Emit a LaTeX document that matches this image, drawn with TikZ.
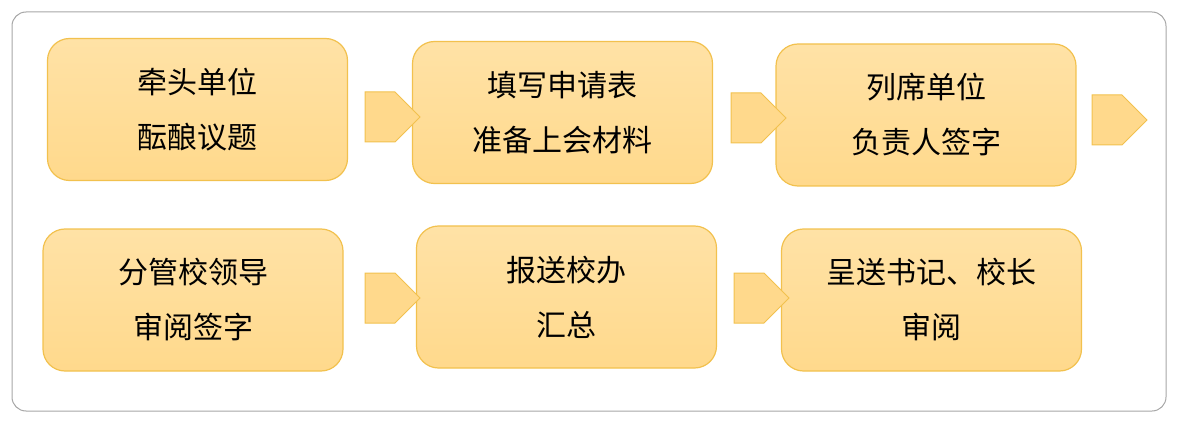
\documentclass[tikz,border=0pt]{standalone}
\usepackage{fontspec}
\newfontfamily\cjk{Noto Sans CJK SC}
\usetikzlibrary{shapes.arrows}
\definecolor{boxfill}{HTML}{FFD98C}
\definecolor{boxtop}{HTML}{FFE2A6}
\definecolor{boxline}{HTML}{F2C14E}
\tikzset{
 stepbox/.style={draw=boxline,line width=1.2pt,rounded corners=22pt,top color=boxtop,bottom color=boxfill,
   minimum width=300pt,minimum height=142pt,align=center,font=\cjk\fontsize{30}{55}\selectfont,text=black},
 arr/.style={single arrow,draw=boxline,fill=boxfill,line width=1pt,minimum width=50pt,single arrow head extend=0pt,
   minimum height=55pt,inner sep=0pt,single arrow tip angle=90}
}
\begin{document}
\begin{tikzpicture}[x=1pt,y=-1pt]
\useasboundingbox (0,0) rectangle (1179,425);
\draw[gray!70,line width=1pt,rounded corners=14pt] (12,12) rectangle (1166,411);
\node[stepbox] (b1) at (197.5,109.5) {牵头单位\\酝酿议题};
\node[stepbox] (b2) at (562.5,112.5) {填写申请表\\准备上会材料};
\node[stepbox] (b3) at (926,115) {列席单位\\负责人签字};
\node[stepbox] (b4) at (193,300) {分管校领导\\审阅签字};
\node[stepbox] (b5) at (566.5,297) {报送校办\\汇总};
\node[stepbox] (b6) at (931.5,300) {呈送书记、校长\\审阅};
\node[arr] (a1) at (380,117) {};
\node[arr] (a2) at (746,118) {};
\node[arr] (a3) at (1107,120) {};
\node[arr] (a4) at (380,298) {};
\node[arr] (a5) at (749,298) {};
\end{tikzpicture}
\end{document}
